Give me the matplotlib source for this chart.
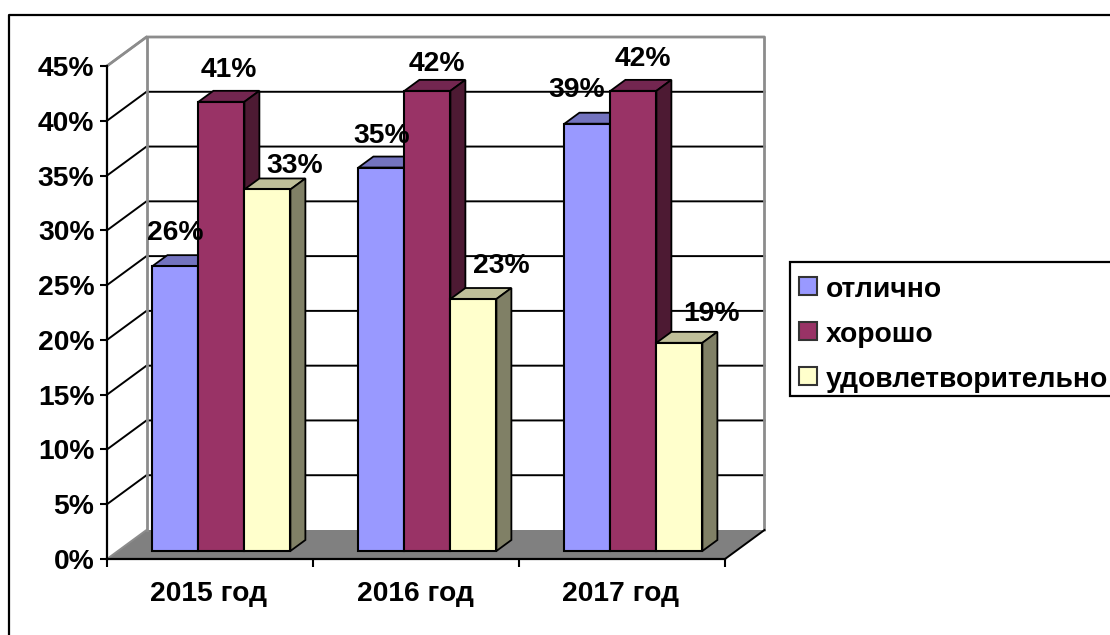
# -*- coding: utf-8 -*-
import matplotlib
matplotlib.use('Agg')
import matplotlib.pyplot as plt
from matplotlib.lines import Line2D
from matplotlib.patches import Polygon, Rectangle

plt.rcParams['font.family'] = ['Liberation Sans', 'DejaVu Sans']
plt.rcParams['font.weight'] = 'bold'

years = ['2015 год', '2016 год', '2017 год']
series = ['отлично', 'хорошо', 'удовлетворительно']
otlichno = [26, 35, 39]
horosho = [41, 42, 42]
udovl = [33, 23, 19]
yticks = [0, 5, 10, 15, 20, 25, 30, 35, 40, 45]

front = ['#9999FF', '#993366', '#FFFFCC']
top = ['#7373BF', '#732650', '#BFBF99']
side = ['#4D4D80', '#4D1A33', '#808066']

W, H = 1110, 635
FS = 20.3
# offsets of the value labels from the top of each bar, in points
label_off = [[(0, 24), (5, 23), (20, 17)],
             [(0, 23), (7, 19), (20, 24)],
             [(-8, 24), (7, 23), (23, 21)]]
# legend rows in pixels: square top, text baseline
legend_rows = [(277, 297), (322, 342), (367, 387)]

# depth of the 3d box, in data units
DX = 39.5 / 206
DY = 29 / 10.956
bar_w = 46 / 206
bar_start = 45.4 / 206
near = 8 / 29
far = 19 / 29


def pt(x, y, d=0.0):
    return (x + d * DX, y + d * DY)


fig = plt.figure(figsize=(W / 100, H / 100), dpi=100)
ax = fig.add_axes([107 / W, 1 - 559 / H, 618 / W, 493 / H])
ax.set_xlim(0, 3)
ax.set_ylim(0, 45)
ax.patch.set_visible(False)

# outer frame, runs off the picture on the right and at the bottom
fig.add_artist(Line2D([8.5 / W, 8.5 / W, 1], [0, 1 - 15 / H, 1 - 15 / H], color='black', lw=1.6))

# floor
ax.add_patch(Polygon([pt(0, 0), pt(3, 0), pt(3, 0, 1), pt(0, 0, 1)], fc='#808080', ec='none',
                     clip_on=False, zorder=1))

# grid on the side and back walls
for v in yticks[1:-1]:
    ax.plot(*zip(pt(0, v), pt(0, v, 1), pt(3, v, 1)), color='black', lw=1.4, clip_on=False, zorder=1)

# wall edges
grey = '#8C8C8C'
ax.plot(*zip(pt(0, 45), pt(0, 45, 1), pt(3, 45, 1), pt(3, 0, 1)), color=grey, lw=2, clip_on=False, zorder=1.5)
ax.plot(*zip(pt(0, 45, 1), pt(0, 0, 1)), color=grey, lw=2, clip_on=False, zorder=1.5)
ax.plot(*zip(pt(0, 45), pt(0, 45, 1)), color=grey, lw=1.6, clip_on=False, zorder=1.5)
ax.plot(*zip(pt(0, 0), pt(0, 0, 1)), color=grey, lw=1.4, clip_on=False, zorder=1.5)
ax.plot(*zip(pt(3, 0), pt(3, 0, 1)), color='black', lw=1.4, clip_on=False, zorder=1.5)

# bars, left to right so each one hides the side of the one before
base = near * DY
z = 2
labels = []
for g in range(3):
    for s, vals in enumerate([otlichno, horosho, udovl]):
        v = vals[g]
        x0 = g + bar_start + s * bar_w
        x1 = x0 + bar_w
        y1 = base + v
        ax.bar(x0, v, bar_w, bottom=base, align='edge', color=front[s], edgecolor='black',
               linewidth=1.5, clip_on=False, zorder=z + 0.2)
        d = far - near
        ax.add_patch(Polygon([(x0, y1), (x1, y1), pt(x1, y1, d), pt(x0, y1, d)], fc=top[s],
                             ec='black', lw=1.3, clip_on=False, zorder=z))
        ax.add_patch(Polygon([(x1, base), (x1, y1), pt(x1, y1, d), pt(x1, base, d)], fc=side[s],
                             ec='black', lw=1.3, clip_on=False, zorder=z))
        z += 1
        labels.append((x0 + bar_w / 2, y1, '%d%%' % v, label_off[g][s]))

for x, y, txt, off in labels:
    ax.annotate(txt, (x, y), xytext=off, textcoords='offset points', ha='center', va='center',
                fontsize=FS, fontweight='bold', color='black', zorder=50, annotation_clip=False)

# axes
for name in ['top', 'right']:
    ax.spines[name].set_visible(False)
for name in ['left', 'bottom']:
    ax.spines[name].set_linewidth(1.6)
    ax.spines[name].set_zorder(40)
ax.set_yticks(yticks)
ax.set_yticklabels(['%d%%' % v for v in yticks], fontsize=FS, fontweight='bold')
ax.tick_params(axis='y', length=5, width=1.5, pad=4)
ax.set_xticks([0, 1, 2, 3])
ax.set_xticklabels([])
ax.tick_params(axis='x', which='major', length=6, width=1.5)
ax.set_xticks([0.495, 1.495, 2.495], minor=True)
ax.set_xticklabels(years, minor=True, fontsize=FS, fontweight='bold')
ax.tick_params(axis='x', which='minor', length=0, pad=16)

# legend box goes past the right edge like in the original
fig.add_artist(Rectangle((790 / W, 1 - 396 / H), 340 / W, 134 / H, transform=fig.transFigure,
                         fc='white', ec='black', lw=1.6))
for s, name in enumerate(series):
    ytop, ybase = legend_rows[s]
    fig.add_artist(Rectangle((799 / W, 1 - (ytop + 18) / H), 18 / W, 18 / H, transform=fig.transFigure,
                             fc=front[s], ec='#333333', lw=1.5))
    fig.text(826 / W, 1 - ybase / H, name, fontsize=FS, fontweight='bold', color='black',
             ha='left', va='baseline')

fig.savefig('out.png', dpi=100, facecolor='white')
